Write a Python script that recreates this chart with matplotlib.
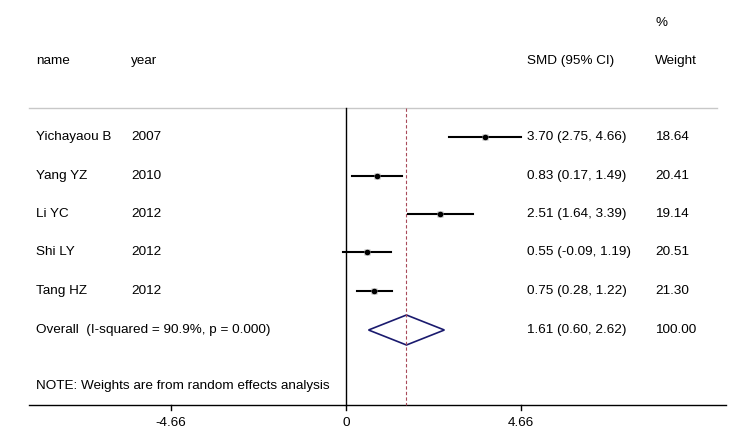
import matplotlib.pyplot as plt
from matplotlib.lines import Line2D
from matplotlib.transforms import blended_transform_factory

plt.rcParams['font.family'] = ['Liberation Sans', 'DejaVu Sans']

# study data
names = ['Yichayaou B', 'Yang YZ', 'Li YC', 'Shi LY', 'Tang HZ']
years = ['2007', '2010', '2012', '2012', '2012']
smd = [3.70, 0.83, 2.51, 0.55, 0.75]
lo = [2.75, 0.17, 1.64, -0.09, 0.28]
hi = [4.66, 1.49, 3.39, 1.19, 1.22]
weights = ['18.64', '20.41', '19.14', '20.51', '21.30']

overall = (1.61, 0.60, 2.62)
overall_wt = '100.00'
overall_lbl = 'Overall  (I-squared = 90.9%, p = 0.000)'
note = 'NOTE: Weights are from random effects analysis'
ticks = [-4.66, 0, 4.66]

# row positions (pixel-like units, top = 0)
rows = [137, 176, 214, 252, 291]
row_overall = 330
row_note = 386
y_top = 108
y_axis = 405

W, H = 750, 444
px_per_unit = 37.55
x0_px = 346

fig = plt.figure(figsize=(7.5, 4.44), dpi=100)
ax = fig.add_axes([0, 0, 1, 1])
ax.set_xlim(-x0_px / px_per_unit, (W - x0_px) / px_per_unit)
ax.set_ylim(H, 0)
ax.axis('off')

fx = blended_transform_factory(fig.transFigure, ax.transData)

def px(p):
    # figure pixel x -> figure fraction
    return p / W

fs = 9.7

# headers
ax.text(px(36), 61, 'name', transform=fx, fontsize=fs, va='center')
ax.text(px(131), 61, 'year', transform=fx, fontsize=fs, va='center')
ax.text(px(527), 61, 'SMD (95% CI)', transform=fx, fontsize=fs, va='center')
ax.text(px(655), 61, 'Weight', transform=fx, fontsize=fs, va='center')
ax.text(px(655), 23, '%', transform=fx, fontsize=fs, va='center')

# separators
ax.add_line(Line2D([px(29), px(717)], [y_top, y_top], transform=fx,
                   color='#c8c8c8', lw=1))
ax.add_line(Line2D([px(29), px(726)], [y_axis, y_axis], transform=fx,
                   color='black', lw=1))

# zero line and overall dashed line
ax.plot([0, 0], [y_top, y_axis], color='black', lw=1)
ax.plot([overall[0], overall[0]], [y_top, y_axis], color='#a84a5a', lw=0.8,
        ls=(0, (3, 2)))

# studies
for i in range(len(names)):
    y = rows[i]
    ax.plot([lo[i], hi[i]], [y, y], color='black', lw=1.5)
    ax.plot(smd[i], y, 's', color='#b0b0b0', ms=4.5, mec='none')
    ax.plot(smd[i], y, 'o', color='black', ms=3)
    ax.text(px(36), y, names[i], transform=fx, fontsize=fs, va='center')
    ax.text(px(131), y, years[i], transform=fx, fontsize=fs, va='center')
    ax.text(px(527), y, '%.2f (%.2f, %.2f)' % (smd[i], lo[i], hi[i]),
            transform=fx, fontsize=fs, va='center')
    ax.text(px(655), y, weights[i], transform=fx, fontsize=fs, va='center')

# overall diamond
est, olo, ohi = overall
ax.fill([olo, est, ohi, est, olo], [row_overall, row_overall - 15, row_overall,
         row_overall + 15, row_overall], fill=False, edgecolor='#1a1a6e', lw=1.2)
ax.text(px(36), row_overall, overall_lbl, transform=fx, fontsize=fs, va='center')
ax.text(px(527), row_overall, '%.2f (%.2f, %.2f)' % overall, transform=fx,
        fontsize=fs, va='center')
ax.text(px(655), row_overall, overall_wt, transform=fx, fontsize=fs, va='center')

ax.text(px(36), row_note, note, transform=fx, fontsize=fs, va='center')

# x ticks
for t in ticks:
    ax.plot([t, t], [y_axis, y_axis + 5], color='black', lw=1)
    ax.text(t, 423, '%g' % t if t == 0 else '%.2f' % t, fontsize=fs,
            ha='center', va='center')

fig.savefig('out.png', dpi=100)
